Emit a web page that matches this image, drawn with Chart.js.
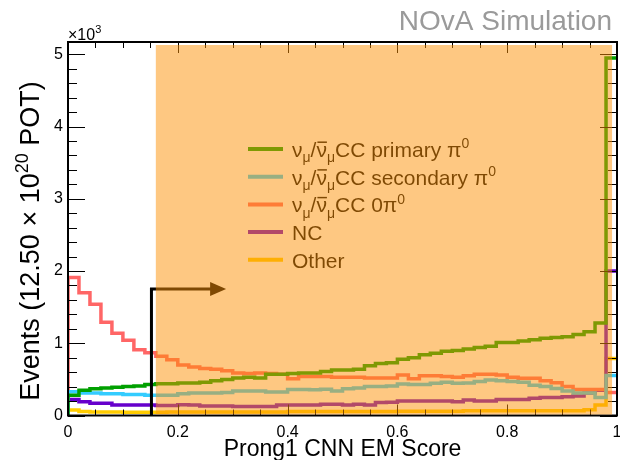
<!DOCTYPE html>
<html>
<head>
<meta charset="utf-8">
<script src="https://cdn.jsdelivr.net/npm/chart.js@4/dist/chart.umd.min.js"></script>
<style>
  html, body { margin: 0; padding: 0; background: #fff; }
  #wrap { width: 620px; height: 460px; }
</style>
</head>
<body>
<div id="wrap"><canvas id="emChart" width="620" height="460"></canvas></div>
<script>
// Bins of Prong1 CNN EM Score: 50 bins, 0.02 wide
const binLowEdges = Array.from({ length: 50 }, (_, i) => +(i * 0.02).toFixed(2));
const xTickValues = [0, 0.2, 0.4, 0.6, 0.8, 1];
const xTickLabels = ['0', '0.2', '0.4', '0.6', '0.8', '1'];
const yTickValues = [0, 1000, 2000, 3000, 4000, 5000];
const yTickLabels = ['0', '1', '2', '3', '4', '5'];

// Events per bin (12.50e20 POT)
const primaryPi0 = [280, 350, 370, 380, 390, 400, 410, 430, 440, 440, 450, 450, 460, 480, 500, 520, 530, 520, 570, 570,
  580, 590, 590, 610, 630, 630, 640, 690, 720, 730, 780, 800, 840, 860, 890, 900, 920, 940, 960, 1010,
  1010, 1030, 1050, 1070, 1080, 1090, 1120, 1160, 1280, 4950];
const secondaryPi0 = [330, 310, 310, 300, 300, 290, 290, 280, 280, 280, 300, 310, 310, 310, 320, 340, 340, 340, 325, 325,
  360, 360, 355, 365, 340, 370, 380, 400, 400, 410, 435, 430, 430, 445, 460, 445, 450, 470, 490, 480,
  470, 460, 420, 400, 375, 340, 310, 310, 250, 555];
const zeroPi0 = [1910, 1700, 1540, 1290, 1140, 1040, 910, 870, 820, 770, 700, 670, 650, 640, 620, 590, 580, 590, 580, 570,
  510, 540, 540, 540, 530, 530, 530, 520, 520, 520, 560, 510, 550, 550, 540, 530, 550, 570, 570, 560,
  530, 515, 515, 480, 455, 400, 360, 360, 360, 320];
const ncEvents = [220, 190, 170, 170, 145, 145, 145, 145, 140, 140, 150, 145, 130, 130, 130, 125, 125, 125, 125, 145,
  145, 145, 145, 155, 155, 145, 155, 145, 180, 185, 200, 200, 200, 200, 200, 190, 215, 200, 200, 220,
  220, 220, 240, 250, 250, 260, 270, 310, 350, 2000];
const otherEvents = [75, 55, 50, 50, 50, 45, 45, 45, 45, 50, 50, 50, 50, 50, 50, 50, 50, 50, 50, 50,
  55, 55, 55, 55, 55, 55, 55, 55, 55, 55, 60, 60, 60, 60, 60, 60, 65, 65, 65, 65,
  65, 65, 65, 65, 65, 65, 65, 80, 145, 790];

const seriesNames = ['νμ/ν̄μCC primary π0', 'νμ/ν̄μCC secondary π0', 'νμ/ν̄μCC 0π0', 'NC', 'Other'];
const seriesValues = [primaryPi0, secondaryPi0, zeroPi0, ncEvents, otherEvents];
const seriesColors = ['#00a000', '#33ccff', '#ff6666', '#6600cc', '#ffcc00'];
// rich text tails for the legend (null = plain name)
const legendTails = [['CC primary π', '0'], ['CC secondary π', '0'], ['CC 0π', '0'], null, null];

const cutValue = 0.152;      // selection line
const arrowHeight = 1750;    // events
const arrowEnd = 0.288;
const selMin = 0.16;         // shaded selected region
const selMax = 0.991;
const yMax = 5170;

const FONT = '"Liberation Sans", Arial, sans-serif';

// histogram outline: start at 0, one point per bin low edge, close the last bin
function histPoints(vals) {
  const pts = [{ x: 0, y: 0 }];
  vals.forEach((v, i) => pts.push({ x: binLowEdges[i], y: v }));
  pts.push({ x: 1, y: vals[vals.length - 1] });
  return pts;
}

// draws text parts with sub/superscripts and overbars, returns width
function richText(ctx, x, y, parts, size, measureOnly) {
  let cx = x;
  parts.forEach(p => {
    const small = p.sub || p.sup;
    const fs = small ? Math.round(size * 0.66) : size;
    ctx.font = fs + 'px ' + FONT;
    const dy = p.sub ? size * 0.26 : p.sup ? -size * 0.42 : 0;
    const w = ctx.measureText(p.t).width;
    if (!measureOnly) {
      ctx.fillText(p.t, cx, y + dy);
      if (p.bar) ctx.fillRect(cx + 1, y - size * 0.74, w - 1, Math.max(1.2, size * 0.07));
    }
    cx += w;
  });
  return cx - x;
}

function nuParts(tail) {
  return [{ t: 'ν' }, { t: 'μ', sub: true }, { t: '/' }, { t: 'ν', bar: true }, { t: 'μ', sub: true },
    { t: tail[0] }, { t: tail[1], sup: true }];
}

function seg(ctx, x1, y1, x2, y2) {
  ctx.beginPath();
  ctx.moveTo(x1, y1);
  ctx.lineTo(x2, y2);
  ctx.stroke();
}

const rootStyle = {
  id: 'rootStyle',
  afterDatasetsDraw(chart) {
    const ctx = chart.ctx;
    const { left, right, top, bottom } = chart.chartArea;
    const xs = chart.scales.x, ys = chart.scales.y;
    ctx.save();

    // frame
    ctx.strokeStyle = '#000';
    ctx.lineWidth = 2;
    ctx.strokeRect(left, top, right - left, bottom - top);

    // ticks on all four sides, pointing inward
    ctx.lineWidth = 1;
    for (let v = 0; v <= yMax; v += 200) {
      const py = Math.round(ys.getPixelForValue(v)) + 0.5;
      const len = v % 1000 === 0 ? 17 : 9;
      seg(ctx, left, py, left + len, py);
      seg(ctx, right, py, right - len, py);
    }
    for (let i = 0; i <= 20; i++) {
      const px = Math.round(xs.getPixelForValue(i * 0.05)) + 0.5;
      const len = i % 4 === 0 ? 11 : 6;
      seg(ctx, px, bottom, px, bottom - len);
      seg(ctx, px, top, px, top + len);
    }

    // selection cut and arrow
    const cx = xs.getPixelForValue(cutValue);
    const ay = ys.getPixelForValue(arrowHeight);
    const ax = xs.getPixelForValue(arrowEnd);
    ctx.lineWidth = 3;
    ctx.beginPath();
    ctx.moveTo(cx, bottom);
    ctx.lineTo(cx, ay);
    ctx.lineTo(ax - 10, ay);
    ctx.stroke();
    ctx.fillStyle = '#000';
    ctx.beginPath();
    ctx.moveTo(ax, ay);
    ctx.lineTo(ax - 16, ay - 7);
    ctx.lineTo(ax - 16, ay + 7);
    ctx.closePath();
    ctx.fill();

    // legend
    const lx = 248, rowY0 = 149, rowGap = 27.7;
    ctx.textBaseline = 'alphabetic';
    ctx.textAlign = 'left';
    seriesNames.forEach((name, i) => {
      const ry = rowY0 + i * rowGap;
      ctx.strokeStyle = seriesColors[i];
      ctx.lineWidth = 4;
      seg(ctx, lx, ry, lx + 35, ry);
      ctx.fillStyle = '#000';
      if (legendTails[i]) richText(ctx, lx + 44, ry + 8, nuParts(legendTails[i]), 21);
      else richText(ctx, lx + 44, ry + 8, [{ t: name }], 21);
    });

    // x10^3
    richText(ctx, left, 40, [{ t: '×10' }, { t: '3', sup: true }], 16);

    // axis titles
    const yTitle = [{ t: 'Events (12.50 × 10' }, { t: '20', sup: true }, { t: ' POT)' }];
    const tSize = 27;
    const tw = richText(ctx, 0, 0, yTitle, tSize, true);
    ctx.save();
    ctx.translate(39, 241);
    ctx.rotate(-Math.PI / 2);
    richText(ctx, -tw / 2, 0, yTitle, tSize);
    ctx.restore();

    ctx.font = '23px ' + FONT;
    ctx.textAlign = 'center';
    ctx.fillText('Prong1 CNN EM Score', (left + right) / 2, 456);

    ctx.fillStyle = '#9a9a9a';
    ctx.textAlign = 'right';
    ctx.font = '28px ' + FONT;
    ctx.fillText('NOvA Simulation', 612, 30);
    ctx.restore();
  },
  afterDraw(chart) {
    // translucent orange box over the selected region
    const ctx = chart.ctx;
    const { top, bottom } = chart.chartArea;
    const xs = chart.scales.x;
    const x0 = xs.getPixelForValue(selMin), x1 = xs.getPixelForValue(selMax);
    ctx.save();
    ctx.fillStyle = 'rgba(253, 145, 5, 0.5)';
    ctx.fillRect(x0, top + 3, x1 - x0, bottom - top - 4);
    ctx.restore();
  }
};

new Chart(document.getElementById('emChart'), {
  type: 'line',
  data: {
    datasets: seriesNames.map((name, i) => ({
      label: name,
      data: histPoints(seriesValues[i]),
      borderColor: seriesColors[i],
      borderWidth: 3.5,
      stepped: true,
      fill: false,
      pointRadius: 0
    }))
  },
  options: {
    responsive: false,
    animation: false,
    layout: { padding: { left: 0, right: 3, top: 42, bottom: 0 } },
    plugins: { legend: { display: false }, tooltip: { enabled: false } },
    elements: { line: { tension: 0 } },
    scales: {
      x: {
        type: 'linear', min: 0, max: 1,
        grid: { display: false, drawTicks: false },
        border: { display: false },
        afterBuildTicks(s) { s.ticks = xTickValues.map(v => ({ value: v })); },
        ticks: {
          padding: 7, maxRotation: 0, autoSkip: false, color: '#000',
          font: { family: FONT, size: 16 },
          callback: (v, i) => xTickLabels[i]
        },
        afterFit(s) { s.height = 44.5; s.paddingLeft = 0; s.paddingRight = 0; }
      },
      y: {
        min: 0, max: yMax,
        grid: { display: false, drawTicks: false },
        border: { display: false },
        afterBuildTicks(s) { s.ticks = yTickValues.map(v => ({ value: v })); },
        ticks: {
          padding: 5, autoSkip: false, color: '#000',
          font: { family: FONT, size: 16 },
          callback: (v, i) => yTickLabels[i]
        },
        afterFit(s) { s.width = 68; s.paddingTop = 0; s.paddingBottom = 0; }
      }
    }
  },
  plugins: [rootStyle]
});
</script>
</body>
</html>
